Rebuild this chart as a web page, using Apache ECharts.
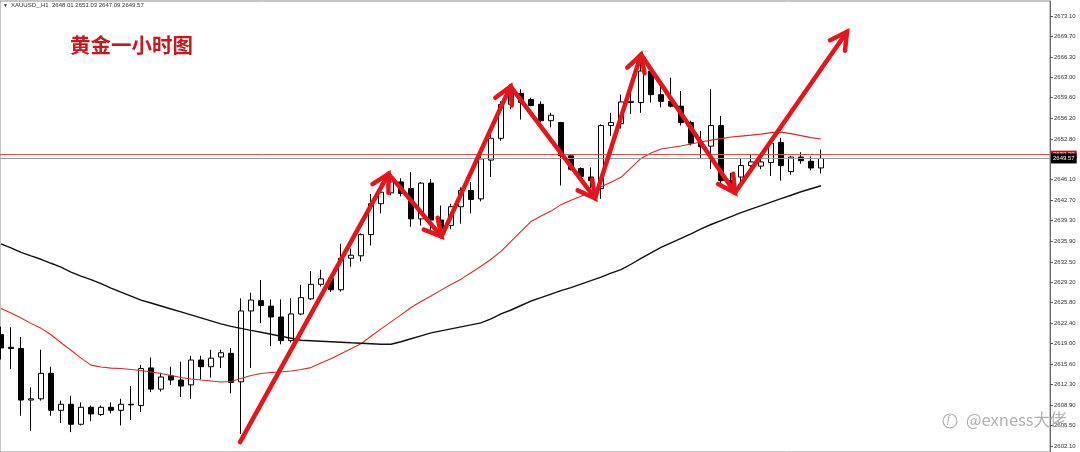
<!DOCTYPE html>
<html><head><meta charset="utf-8">
<script src="https://cdn.jsdelivr.net/npm/echarts@6/dist/echarts.min.js"></script>
<style>html,body{margin:0;padding:0;background:#fff;overflow:hidden}#c{width:1080px;height:452px}</style>
</head><body><div id="c"></div>
<script>
// ---- data (XAUUSD H1) ----
const opens  = [2620.5,2618.4,2618.2,2609.7,2609.9,2614.1,2608.0,2609.0,2605.7,2608.5,2607.3,2608.5,2608.0,2608.9,2608.8,2615.0,2611.5,2613.7,2613.0,2612.2,2616.3,2615.2,2616.8,2617.4,2612.7,2624.4,2626.1,2625.2,2623.4,2619.5,2623.9,2626.4,2628.8,2629.8,2627.9,2633.1,2633.5,2637.0,2642.1,2643.9,2645.7,2644.6,2639.6,2645.5,2639.4,2638.5,2641.6,2644.3,2642.9,2649.3,2652.9,2658.5,2660.3,2659.3,2658.5,2655.8,2655.5,2650.0,2647.9,2646.5,2644.6,2655.0,2655.3,2658.8,2658.8,2664.0,2660.1,2659.0,2658.2,2655.5,2652.1,2651.6,2655.0,2645.9,2646.5,2648.4,2648.3,2648.9,2652.2,2647.4,2649.8,2649.1,2648.01];
const highs  = [2621.8,2621.7,2620.1,2611.8,2618.0,2615.2,2609.6,2610.4,2609.3,2608.8,2608.8,2609.3,2609.9,2612.0,2615.5,2616.7,2614.2,2615.2,2616.0,2617.0,2617.0,2618.0,2618.0,2618.3,2626.5,2627.4,2629.5,2626.3,2626.3,2626.5,2628.7,2631.0,2631.2,2630.3,2635.5,2634.7,2637.2,2643.7,2645.4,2646.5,2646.3,2647.3,2645.7,2646.2,2641.8,2642.1,2644.8,2645.7,2650.3,2653.6,2659.0,2661.0,2661.0,2659.6,2659.0,2657.1,2655.6,2650.3,2648.1,2648.1,2655.2,2657.1,2660.1,2661.0,2665.3,2664.8,2662.1,2662.9,2660.7,2655.8,2654.1,2661.0,2656.6,2647.2,2649.5,2650.3,2649.5,2652.8,2653.0,2650.0,2650.6,2649.9,2651.03];
const lows   = [2616.4,2614.8,2607.1,2604.6,2609.6,2607.1,2605.9,2604.4,2605.5,2606.2,2607.1,2607.5,2605.5,2606.4,2607.7,2611.0,2611.1,2612.2,2610.2,2609.9,2613.1,2613.4,2615.0,2610.8,2604.1,2615.0,2622.4,2618.6,2618.9,2619.2,2623.7,2626.2,2628.4,2627.5,2627.6,2631.7,2632.6,2635.2,2640.5,2643.5,2643.3,2638.3,2638.5,2637.8,2637.2,2637.9,2638.8,2640.5,2642.5,2646.5,2652.5,2657.7,2656.0,2658.2,2655.5,2654.7,2645.1,2647.6,2646.2,2644.6,2642.9,2653.3,2654.5,2656.9,2657.1,2658.8,2658.0,2658.0,2655.0,2651.7,2649.5,2647.8,2645.5,2644.5,2645.7,2647.4,2647.8,2646.7,2645.9,2646.9,2648.7,2647.6,2647.09];
const closes = [2618.3,2618.2,2609.7,2609.9,2614.1,2608.0,2609.0,2605.7,2608.5,2607.4,2608.5,2608.0,2609.0,2609.0,2614.9,2611.5,2613.5,2613.0,2612.0,2616.3,2615.2,2616.6,2617.5,2612.6,2624.4,2626.2,2625.3,2623.4,2619.5,2623.9,2626.6,2628.8,2629.7,2627.9,2633.1,2633.6,2637.0,2642.1,2644.0,2645.7,2643.8,2639.6,2645.5,2639.4,2638.0,2641.6,2644.3,2642.8,2649.5,2652.9,2658.5,2660.4,2658.8,2658.3,2655.8,2656.7,2650.0,2647.8,2646.6,2645.9,2655.0,2655.5,2658.9,2659.0,2664.0,2660.1,2659.0,2658.2,2655.5,2652.1,2651.5,2655.0,2645.9,2645.3,2648.4,2649.0,2649.0,2652.1,2648.4,2649.8,2649.2,2648.0,2649.57];
const maRed   = [2624.81,2624.07,2623.25,2622.35,2621.53,2620.47,2619.15,2617.92,2616.61,2615.46,2615.14,2614.97,2614.89,2614.73,2614.56,2614.32,2614.07,2613.74,2613.41,2613.17,2613.00,2612.84,2612.68,2612.76,2613.25,2613.74,2614.07,2614.23,2614.32,2614.48,2614.73,2615.05,2615.79,2616.53,2617.35,2618.17,2618.99,2620.22,2621.45,2622.60,2623.75,2624.97,2625.96,2626.86,2627.84,2628.75,2629.65,2630.71,2631.78,2632.93,2634.24,2635.88,2637.52,2639.16,2640.06,2640.88,2641.95,2642.68,2643.34,2644.00,2644.90,2645.63,2646.45,2648.01,2649.57,2650.47,2651.13,2651.37,2651.62,2651.95,2652.28,2652.60,2652.85,2653.10,2653.26,2653.42,2653.59,2653.83,2653.92,2653.67,2653.34,2653.01,2652.77];
const maBlack = [2635.47,2634.81,2634.08,2633.50,2632.93,2632.27,2631.62,2630.80,2630.14,2629.57,2628.91,2628.17,2627.52,2626.86,2626.20,2625.71,2625.22,2624.73,2624.24,2623.75,2623.25,2622.76,2622.27,2621.86,2621.53,2621.20,2620.88,2620.55,2620.22,2619.89,2619.56,2619.48,2619.40,2619.32,2619.24,2619.15,2619.07,2618.99,2618.91,2618.91,2619.32,2619.81,2620.30,2620.79,2621.12,2621.45,2621.78,2622.10,2622.43,2623.09,2623.91,2624.56,2625.30,2626.04,2626.61,2627.19,2627.76,2628.25,2628.83,2629.40,2629.98,2630.63,2631.21,2632.11,2633.09,2633.99,2634.89,2635.63,2636.37,2637.11,2637.93,2638.67,2639.32,2639.98,2640.63,2641.21,2641.78,2642.36,2642.93,2643.50,2644.08,2644.57,2645.06];
const arrowIdx   = [23.9, 38.75, 44.05, 50.95, 59.4, 64.0, 73.4, 84.6];
const arrowPrice = [2602.76, 2647.03, 2636.70, 2661.46, 2643.01, 2666.71, 2643.91, 2670.48];
const yTicks = [2602.10,2605.50,2608.90,2612.30,2615.60,2619.00,2622.40,2625.80,2629.20,2632.50,2635.90,2639.30,2642.70,2646.10,2652.80,2656.20,2659.60,2663.00,2666.30,2669.70,2673.10];
const bidPrice = 2649.57;
const askPrice = 2650.20;
const headerText = 'XAUUSD_,H1  2648.01 2651.03 2647.09 2649.57';
const titleText = '黄金一小时图';
const watermark = '@exness大佬';

// ---- build series data ----
const candleData = opens.map((o, i) => [i, o, closes[i], lows[i], highs[i]]);
const redData = maRed.map((v, i) => [i, v]);
const blackData = maBlack.map((v, i) => [i, v]);
const arrowData = [];
for (let i = 0; i < arrowIdx.length - 1; i++) {
  arrowData.push([arrowIdx[i], arrowPrice[i], arrowIdx[i + 1], arrowPrice[i + 1]]);
}

const chart = echarts.init(document.getElementById('c'), null, {renderer: 'canvas'});
const ARROW = '#e4151b';
chart.setOption({
  animation: false,
  backgroundColor: '#ffffff',
  grid: {left: 0, right: 30, top: 1, bottom: -3, show: true, borderColor: '#8a8a8a', borderWidth: 1, backgroundColor: 'transparent'},
  xAxis: {type: 'value', min: -0.1, max: 104.9, show: false},
  yAxis: {
    type: 'value', position: 'right', min: 2601.12, max: 2675.56, scale: true,
    splitLine: {show: false},
    axisLine: {show: true, onZero: false, lineStyle: {color: '#6a6a6a', width: 1}},
    axisTick: {show: true, length: 3, inside: false, customValues: yTicks, lineStyle: {color: '#555'}},
    axisLabel: {customValues: yTicks, formatter: v => v.toFixed(2), fontSize: 6, color: '#333', margin: 4, fontFamily: 'Liberation Sans'}
  },
  series: [
    {
      type: 'candlestick', data: candleData, encode: {x: 0, y: [1, 2, 3, 4]},
      barWidth: 6, z: 2,
      itemStyle: {color: '#ffffff', color0: '#000000', borderColor: '#000000', borderColor0: '#000000', borderColorDoji: '#000000', borderWidth: 1},
      markLine: {
        silent: true, symbol: 'none', animation: false,
        data: [
          {yAxis: askPrice, lineStyle: {color: '#e05050', width: 1, type: 'solid'},
           label: {show: true, position: 'end', distance: 1, formatter: askPrice.toFixed(2), backgroundColor: '#c81010', color: '#fff', fontSize: 6, padding: [1, 2], fontFamily: 'Liberation Sans'}},
          {yAxis: bidPrice, lineStyle: {color: '#9a9a9a', width: 1, type: 'solid'},
           label: {show: true, position: 'end', distance: 1, formatter: bidPrice.toFixed(2), backgroundColor: '#000', color: '#fff', fontSize: 6, padding: [2, 2], fontFamily: 'Liberation Sans'}}
        ]
      }
    },
    {type: 'line', data: redData, showSymbol: false, z: 3, lineStyle: {color: '#d42a2a', width: 1.1}, silent: true},
    {type: 'line', data: blackData, showSymbol: false, z: 3, lineStyle: {color: '#111', width: 1.4}, silent: true},
    {
      type: 'custom', data: arrowData, encode: {x: [0, 2], y: [1, 3]}, z: 10, silent: true,
      renderItem: function (params, api) {
        const p1 = api.coord([api.value(0), api.value(1)]);
        const p2 = api.coord([api.value(2), api.value(3)]);
        const ang = Math.atan2(p2[1] - p1[1], p2[0] - p1[0]);
        const L = 19, a = 0.5;
        const h1 = [p2[0] - L * Math.cos(ang - a), p2[1] - L * Math.sin(ang - a)];
        const h2 = [p2[0] - L * Math.cos(ang + a), p2[1] - L * Math.sin(ang + a)];
        return {
          type: 'group', children: [
            {type: 'line', shape: {x1: p1[0], y1: p1[1], x2: p2[0], y2: p2[1]}, style: {stroke: ARROW, lineWidth: 4.5, lineCap: 'round'}},
            {type: 'polyline', shape: {points: [h1, p2, h2]}, style: {stroke: ARROW, lineWidth: 4.5, fill: null, lineJoin: 'miter', lineCap: 'round'}}
          ]
        };
      }
    }
  ],
  graphic: [
    {type: 'text', left: 3, top: 3, style: {text: '▼', fontSize: 5, fill: '#222'}},
    {type: 'text', left: 11, top: 2, style: {text: headerText, fontSize: 6, fill: '#333', fontFamily: 'Liberation Sans'}},
    {type: 'text', left: 70, top: 35, style: {text: titleText, fontSize: 20.5, fontWeight: 'bold', fill: '#c21a1f', fontFamily: 'Noto Sans CJK SC'}},
    {type: 'circle', shape: {cx: 950, cy: 421, r: 7}, style: {fill: null, stroke: '#b0b0b0', lineWidth: 1.2}, z: 20},
    {type: 'text', left: 946, top: 415, style: {text: 'ƒ', fontSize: 10, fill: '#b0b0b0'}, z: 20},
    {type: 'text', left: 966, top: 411, style: {text: watermark, fontSize: 16.5, fill: '#b0b0b0', fontFamily: 'Noto Sans CJK SC'}, z: 20}
  ]
});
</script>
</body></html>
